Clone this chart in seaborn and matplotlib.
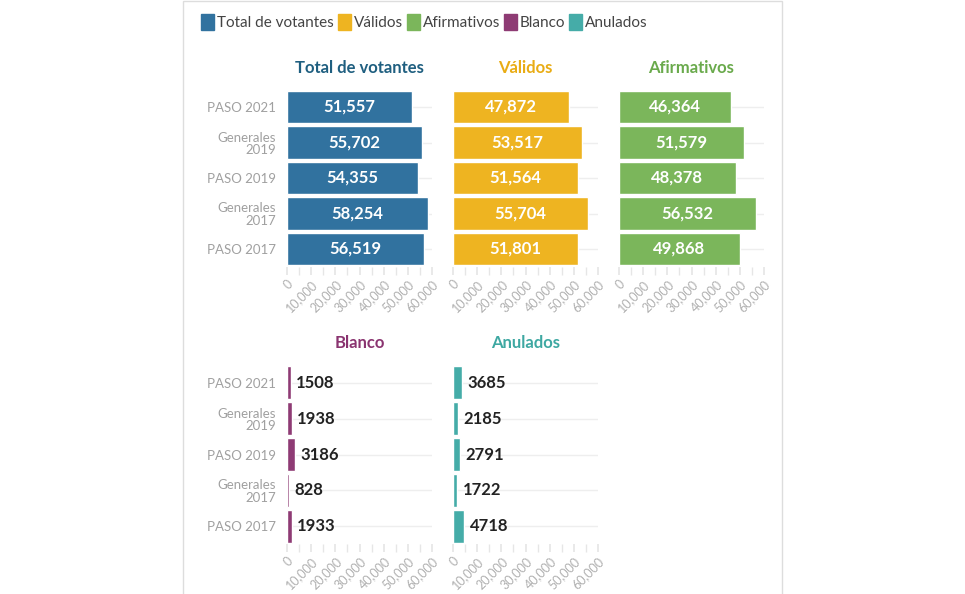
import matplotlib
matplotlib.use('Agg')
import matplotlib.pyplot as plt
from matplotlib.patches import Patch, Rectangle
from matplotlib.ticker import MultipleLocator, FuncFormatter
import seaborn as sns
import pandas as pd

sns.set_theme(style='white')
plt.rcParams['font.family'] = ['Lato', 'DejaVu Sans']

elecciones = ['PASO 2021', 'Generales\n2019', 'PASO 2019', 'Generales\n2017', 'PASO 2017']
total_votantes = [51557, 55702, 54355, 58254, 56519]
validos = [47872, 53517, 51564, 55704, 51801]
afirmativos = [46364, 51579, 48378, 56532, 49868]
blanco = [1508, 1938, 3186, 828, 1933]
anulados = [3685, 2185, 2791, 1722, 4718]

series = ['Total de votantes', 'Válidos', 'Afirmativos', 'Blanco', 'Anulados']
colores = ['#31729f', '#eeb421', '#7bb65b', '#8e3b74', '#45aca8']
titulo_col = ['#1f5f80', '#e9ac14', '#6aaa4c', '#8a3470', '#3ea8a2']

df = pd.DataFrame({'Elección': elecciones, 'Total de votantes': total_votantes,
                   'Válidos': validos, 'Afirmativos': afirmativos,
                   'Blanco': blanco, 'Anulados': anulados})

W, H = 965, 594
fig = plt.figure(figsize=(W / 100, H / 100), dpi=100)
fig.patches.append(Rectangle((183 / W, -0.01), (782 - 183) / W, 1.009, transform=fig.transFigure,
                             fill=False, edgecolor='#dddddd', lw=1))

lefts = [287, 453, 619]
w = 145 / W
filas = [(1 - 266.75 / H, (266.75 - 89.25) / H), (1 - 544 / H, (544 - 365) / H)]

for i, s in enumerate(series):
    fila, col = divmod(i, 3)
    y0, h = filas[fila]
    ax = fig.add_axes([lefts[col] / W, y0, w, h])
    sns.barplot(data=df, y='Elección', x=s, orient='h', color=colores[i],
                width=0.92, saturation=1, ax=ax)
    ax.set_xlim(0, 60000)
    ax.set_xlabel('')
    ax.set_ylabel('')
    for sp in ax.spines.values():
        sp.set_visible(False)
    ax.yaxis.grid(True, color='#eeeeee', lw=1)
    ax.set_axisbelow(True)
    ax.xaxis.set_major_locator(MultipleLocator(10000))
    ax.xaxis.set_minor_locator(MultipleLocator(5000))
    ax.xaxis.set_major_formatter(FuncFormatter(lambda v, p: f'{int(v):,}'))
    ax.tick_params(axis='x', which='both', bottom=True, length=6, color='#e6e6e6',
                   labelsize=9, labelcolor='#b0b0b0', pad=2)
    for lab in ax.get_xticklabels():
        lab.set_rotation(45)
        lab.set_ha('right')
        lab.set_rotation_mode('anchor')
    ax.tick_params(axis='y', length=0, pad=8, labelsize=9.5, labelcolor='#a0a0a0')
    if col != 0:
        ax.set_yticklabels([])
    for lab in ax.get_yticklabels():
        lab.set_linespacing(1.05)
        lab.set_multialignment('right')
    ax.set_title(s, fontsize=12, fontweight='bold', color=titulo_col[i], pad=12)
    if fila == 0:
        ax.bar_label(ax.containers[0], labels=[f'{v:,}' for v in df[s]], label_type='center',
                     color='white', fontsize=12, fontweight='bold')
    else:
        ax.bar_label(ax.containers[0], labels=[f'{v}' for v in df[s]], padding=4,
                     color='#222222', fontsize=12, fontweight='bold')

handles = [Patch(facecolor=c, edgecolor=c, label=s) for s, c in zip(series, colores)]
fig.legend(handles=handles, loc='upper left', bbox_to_anchor=(195 / W, 1 - 8 / H), ncol=5,
           frameon=False, handlelength=0.85, handleheight=1.2, handletextpad=0.2,
           columnspacing=0.25, fontsize=11, labelcolor='#444444', borderaxespad=0)

fig.savefig('out.png', dpi=100, facecolor='white')
